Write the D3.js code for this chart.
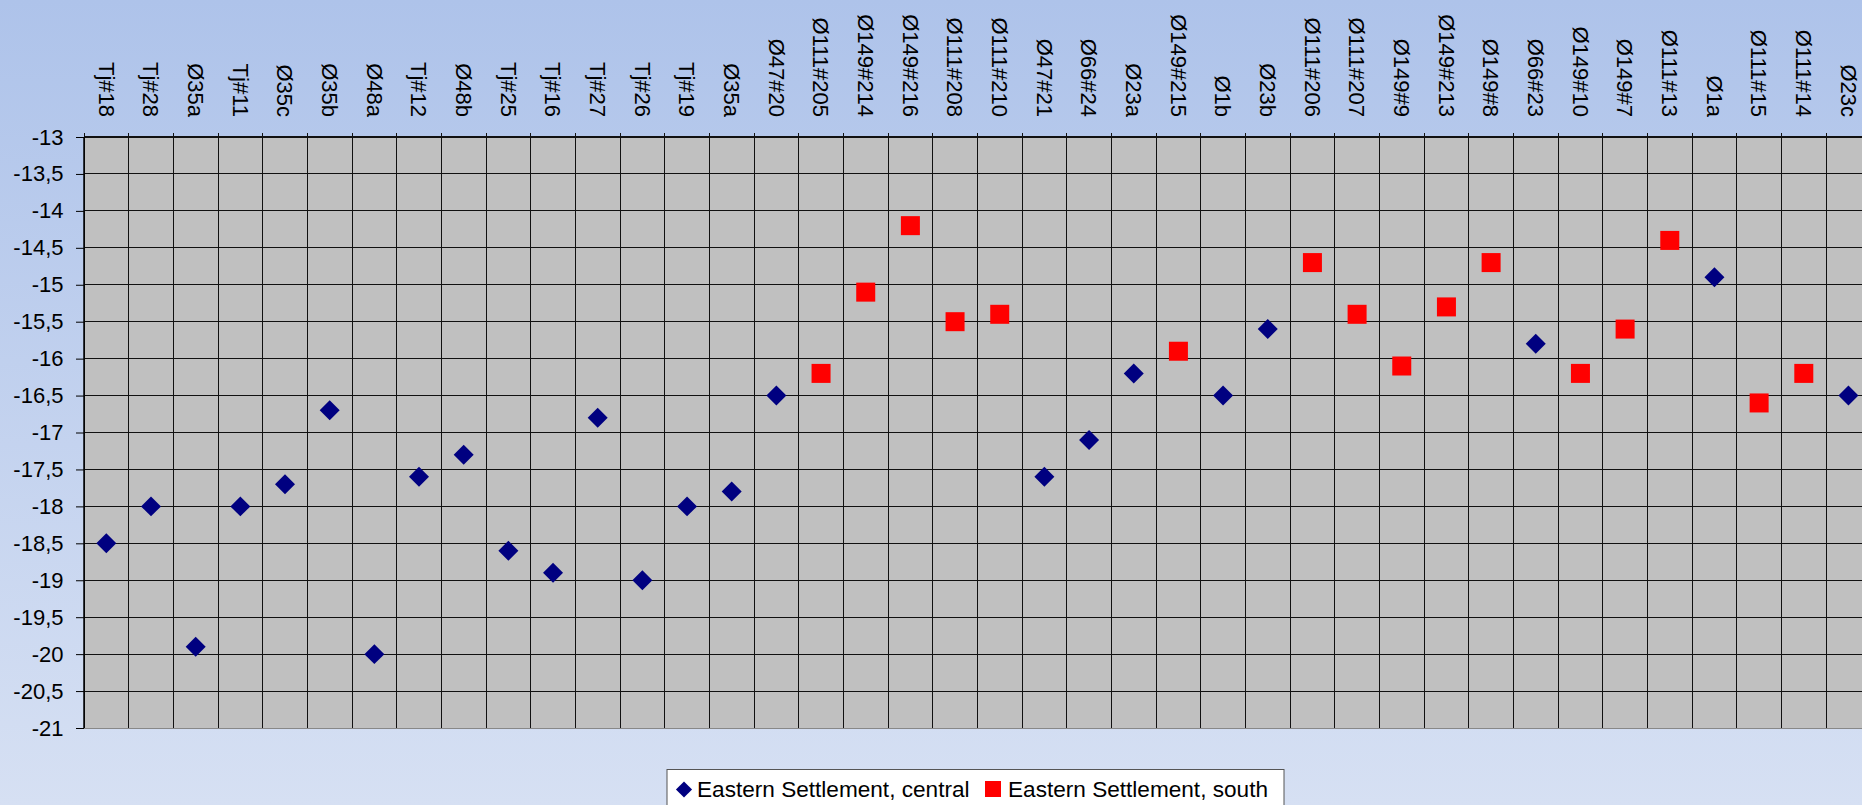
<!DOCTYPE html>
<html>
<head>
<meta charset="utf-8">
<style>
body { margin: 0; overflow: hidden; }
svg { display: block; font-family: "Liberation Sans", Arial, sans-serif; }
.axis .domain { display: none; }
</style>
</head>
<body>
<svg width="1862" height="805"></svg>
<script src="https://cdn.jsdelivr.net/npm/d3@7"></script>
<script>

// samples along the x axis (note: Ø35a appears twice)
var categories = ["Tj#18", "Tj#28", "Ø35a", "Tj#11", "Ø35c", "Ø35b", "Ø48a", "Tj#12", "Ø48b", "Tj#25",
  "Tj#16", "Tj#27", "Tj#26", "Tj#19", "Ø35a", "Ø47#20", "Ø111#205", "Ø149#214", "Ø149#216", "Ø111#208",
  "Ø111#210", "Ø47#21", "Ø66#24", "Ø23a", "Ø149#215", "Ø1b", "Ø23b", "Ø111#206", "Ø111#207", "Ø149#9",
  "Ø149#213", "Ø149#8", "Ø66#23", "Ø149#10", "Ø149#7", "Ø111#13", "Ø1a", "Ø111#15", "Ø111#14", "Ø23c"];

var central = [-18.5, -18, -19.9, -18, -17.7, -16.7, -20, -17.6, -17.3, -18.6,
  -18.9, -16.8, -19, -18, -17.8, -16.5, null, null, null, null,
  null, -17.6, -17.1, -16.2, null, -16.5, -15.6, null, null, null,
  null, null, -15.8, null, null, null, -14.9, null, null, -16.5];

var south = [null, null, null, null, null, null, null, null, null, null,
  null, null, null, null, null, null, -16.2, -15.1, -14.2, -15.5,
  -15.4, null, null, null, -15.9, null, null, -14.7, -15.4, -16.1,
  -15.3, -14.7, null, -16.2, -15.6, -14.4, null, -16.6, -16.2, null];

var yTicks = [-13, -13.5, -14, -14.5, -15, -15.5, -16, -16.5, -17, -17.5, -18, -18.5, -19, -19.5, -20, -20.5, -21];

var seriesNames = ["Eastern Settlement, central", "Eastern Settlement, south"];

var svg = d3.select("svg"),
    W = 1862, H = 805,
    plotLeft = 84, plotTop = 137, plotBottom = 728,
    colW = 44.67,
    plotRight = plotLeft + colW * categories.length;

var defs = svg.append("defs");
var grad = defs.append("linearGradient").attr("id", "bg")
    .attr("x1", 0).attr("y1", 0).attr("x2", 0).attr("y2", 1);
grad.append("stop").attr("offset", "0%").attr("stop-color", "#aec3ea");
grad.append("stop").attr("offset", "100%").attr("stop-color", "#d6e0f3");

svg.append("rect").attr("width", W).attr("height", H).attr("fill", "url(#bg)");

var x = d3.scaleBand()
    .domain(d3.range(categories.length))
    .range([plotLeft, plotRight]);

var y = d3.scaleLinear()
    .domain([-21, -13])
    .range([plotBottom, plotTop]);

// plot area
svg.append("rect")
    .attr("x", plotLeft).attr("y", plotTop)
    .attr("width", plotRight - plotLeft).attr("height", plotBottom - plotTop)
    .attr("fill", "#c0c0c0");

var grid = svg.append("g").attr("shape-rendering", "crispEdges");

grid.selectAll("line.h")
  .data(yTicks)
  .enter().append("line")
    .attr("class", "h")
    .attr("x1", plotLeft).attr("x2", plotRight)
    .attr("y1", function(d) { return y(d); })
    .attr("y2", function(d) { return y(d); })
    .attr("stroke", function(d) { return d === -21 ? "#888" : "#111"; })
    .attr("stroke-width", function(d) { return d === -13 ? 1.6 : 1; });

grid.selectAll("line.v")
  .data(d3.range(categories.length + 1))
  .enter().append("line")
    .attr("class", "v")
    .attr("x1", function(i) { return i < categories.length ? x(i) : plotRight; })
    .attr("x2", function(i) { return i < categories.length ? x(i) : plotRight; })
    .attr("y1", plotTop - 4).attr("y2", plotBottom)
    .attr("stroke", "#111");

// y axis
svg.append("g")
    .attr("class", "axis")
    .attr("transform", "translate(" + plotLeft + ",0)")
    .call(d3.axisLeft(y)
      .tickValues(yTicks)
      .tickSize(8)
      .tickPadding(12.5)
      .tickFormat(function(d) { return String(d).replace(".", ","); }))
    .call(function(g) {
      g.selectAll("text").attr("font-size", 22).attr("fill", "#000")
        .attr("font-family", "Liberation Sans, Arial, sans-serif");
      g.selectAll("line").attr("stroke", "#000");
    });

svg.append("line")
    .attr("x1", plotLeft).attr("x2", plotLeft)
    .attr("y1", plotTop).attr("y2", plotBottom)
    .attr("stroke", "#000").attr("stroke-width", 1.5);

// category labels, rotated, ending just above the plot
svg.append("g")
  .selectAll("text")
  .data(categories)
  .enter().append("text")
    .attr("transform", function(d, i) {
      return "translate(" + (x(i) + x.bandwidth() / 2) + ",117) rotate(90)";
    })
    .attr("text-anchor", "end")
    .attr("dy", "0.35em")
    .attr("font-size", 22)
    .attr("fill", "#000")
    .text(function(d) { return d; });

svg.append("g")
  .selectAll("path")
  .data(central.map(function(v, i) { return {i: i, v: v}; }).filter(function(d) { return d.v !== null; }))
  .enter().append("path")
    .attr("d", d3.symbol().type(d3.symbolSquare).size(200))
    .attr("transform", function(d) {
      return "translate(" + (x(d.i) + x.bandwidth() / 2) + "," + y(d.v) + ") rotate(45)";
    })
    .attr("fill", "#000080");

svg.append("g")
  .selectAll("rect")
  .data(south.map(function(v, i) { return {i: i, v: v}; }).filter(function(d) { return d.v !== null; }))
  .enter().append("rect")
    .attr("x", function(d) { return x(d.i) + x.bandwidth() / 2 - 9.5; })
    .attr("y", function(d) { return y(d.v) - 9.5; })
    .attr("width", 19).attr("height", 19)
    .attr("fill", "#ff0000");

// legend
var legend = svg.append("g");
legend.append("rect")
    .attr("x", 667).attr("y", 769.5)
    .attr("width", 617).attr("height", 50)
    .attr("fill", "#fff").attr("stroke", "#555");

legend.append("path")
    .attr("d", d3.symbol().type(d3.symbolSquare).size(130))
    .attr("transform", "translate(684,789.5) rotate(45)")
    .attr("fill", "#000080");
legend.append("text")
    .attr("x", 697).attr("y", 797)
    .attr("font-size", 22.6)
    .text(seriesNames[0]);

legend.append("rect")
    .attr("x", 985).attr("y", 781).attr("width", 16).attr("height", 16)
    .attr("fill", "#ff0000");
legend.append("text")
    .attr("x", 1008).attr("y", 797)
    .attr("font-size", 22.6)
    .text(seriesNames[1]);

</script>
</body>
</html>
